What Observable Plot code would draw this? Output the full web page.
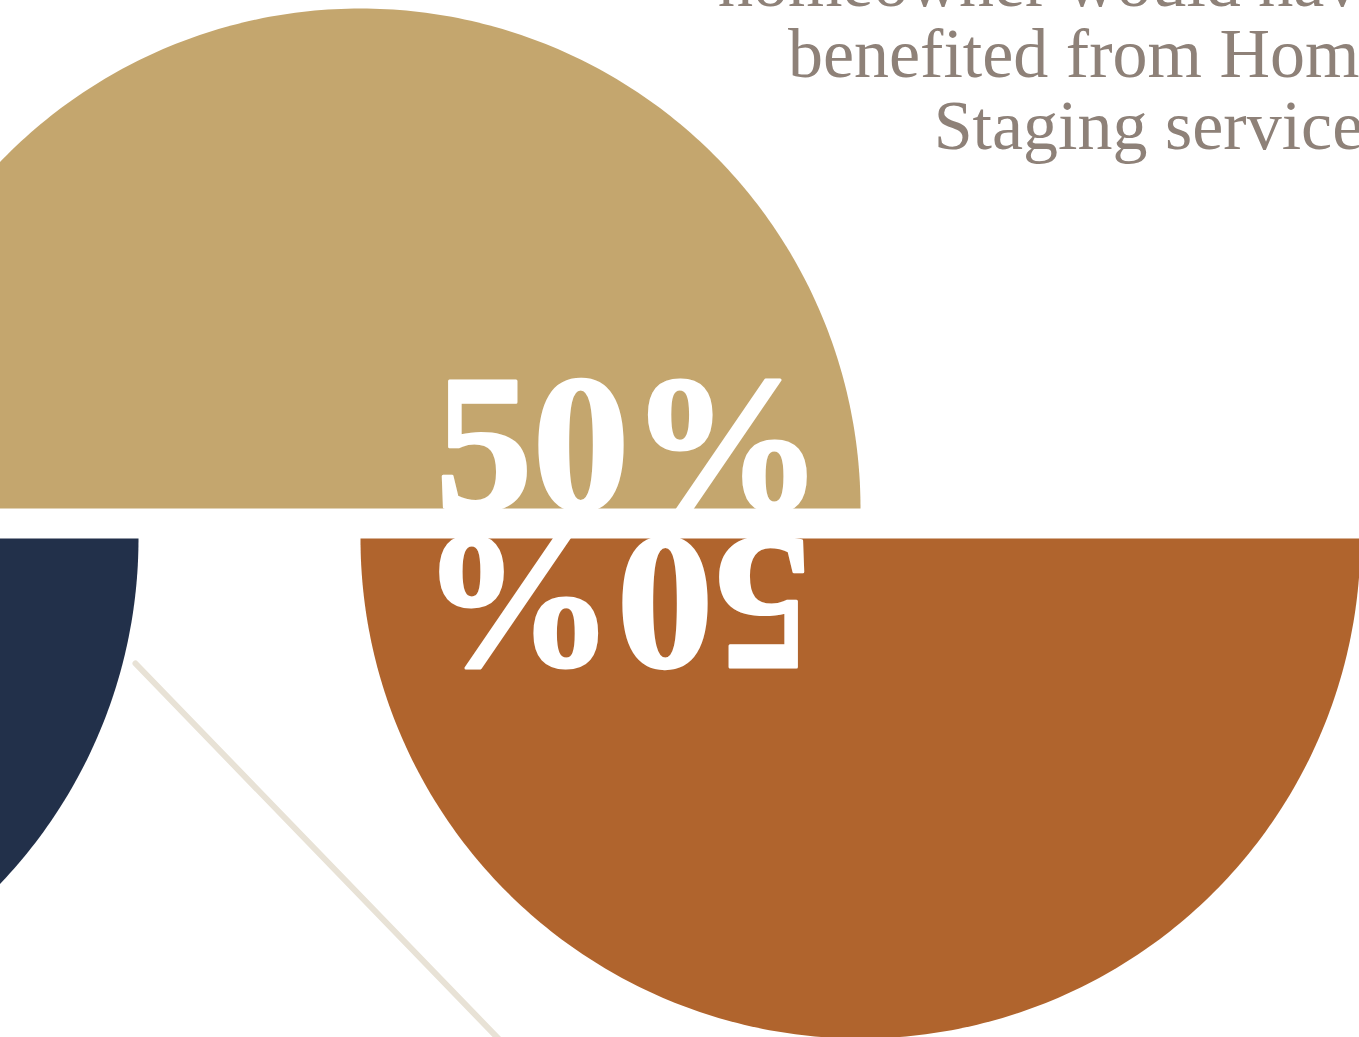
<!DOCTYPE html>
<html>
<head>
<meta charset="utf-8">
<script src="https://cdn.jsdelivr.net/npm/d3@7"></script>
<script src="https://cdn.jsdelivr.net/npm/@observablehq/plot@0.6"></script>
<style>
html, body { margin: 0; padding: 0; background: #ffffff; overflow: hidden; }
#chart svg { display: block; overflow: hidden; }
</style>
</head>
<body>
<div id="chart"></div>
<script>
// ---- data ----
const categories = ["Would have benefited", "Other"];
const values = [50, 50];
const valueLabels = ["50%", "50%"];
const sliceColors = ["#C4A66E", "#B0642D"];
const decorColor = "#22304A";
const captionLines = ["homeowner would have", "benefited from Home", "Staging services"];

// ---- layout ----
const W = 1359, H = 1037;
const R = 500;
const sliceCenters = [[360, 508], [860, 538]];
const decorCenter = [-362, 538];
const labelAnchors = [[629, 508], [616, 538]];
const dividerEnds = [[135, 663], [520, 1061]];

const pie = d3.pie().sort(null).startAngle(-Math.PI / 2).endAngle(3 * Math.PI / 2);
const arcs = pie(values);

function arcPoints(a0, a1, cx, cy, key) {
  const n = 240, pts = [];
  for (let i = 0; i <= n; i++) {
    const a = a0 + (a1 - a0) * i / n;
    pts.push({key, x: cx + R * Math.sin(a), y: cy - R * Math.cos(a)});
  }
  pts.push({key, x: cx, y: cy});
  return pts;
}

const marks = [];
// decorative navy half disc (bottom half, same angular span as second slice)
marks.push(Plot.line(arcPoints(arcs[1].startAngle, arcs[1].endAngle, decorCenter[0], decorCenter[1], "decor"),
  {x: "x", y: "y", fill: decorColor, stroke: "none"}));
arcs.forEach((s, i) => {
  marks.push(Plot.line(arcPoints(s.startAngle, s.endAngle, sliceCenters[i][0], sliceCenters[i][1], categories[i]),
    {x: "x", y: "y", fill: sliceColors[i], stroke: "none"}));
});
// thin diagonal divider
marks.push(Plot.line(dividerEnds.map(([x, y]) => ({x, y})),
  {x: "x", y: "y", stroke: "#E8E2D6", strokeWidth: 6}));
// value labels
valueLabels.forEach((t, i) => {
  marks.push(Plot.text([t], {
    x: () => labelAnchors[i][0], y: () => labelAnchors[i][1], text: d => d,
    rotate: i === 0 ? 0 : 180,
    textAnchor: "middle", lineAnchor: "bottom",
    fill: "#ffffff", stroke: "#ffffff", strokeWidth: 3,
    fontSize: 194, fontWeight: 900,
    fontFamily: "'Liberation Serif', 'DejaVu Serif', serif"
  }));
});
// caption
marks.push(Plot.text([captionLines.join("\n")], {
  x: () => 1390, y: () => 148, text: d => d,
  textAnchor: "end", lineAnchor: "bottom", lineHeight: 1.015,
  fill: "#8E8178", fontSize: 70, fontWeight: 400,
  fontFamily: "'Liberation Serif', 'DejaVu Serif', serif"
}));

const chart = Plot.plot({
  width: W, height: H,
  margin: 0,
  x: {domain: [0, W], range: [0, W], axis: null},
  y: {domain: [0, H], range: [0, H], axis: null},
  style: {background: "#ffffff"},
  marks
});
document.getElementById("chart").appendChild(chart);
</script>
</body>
</html>
